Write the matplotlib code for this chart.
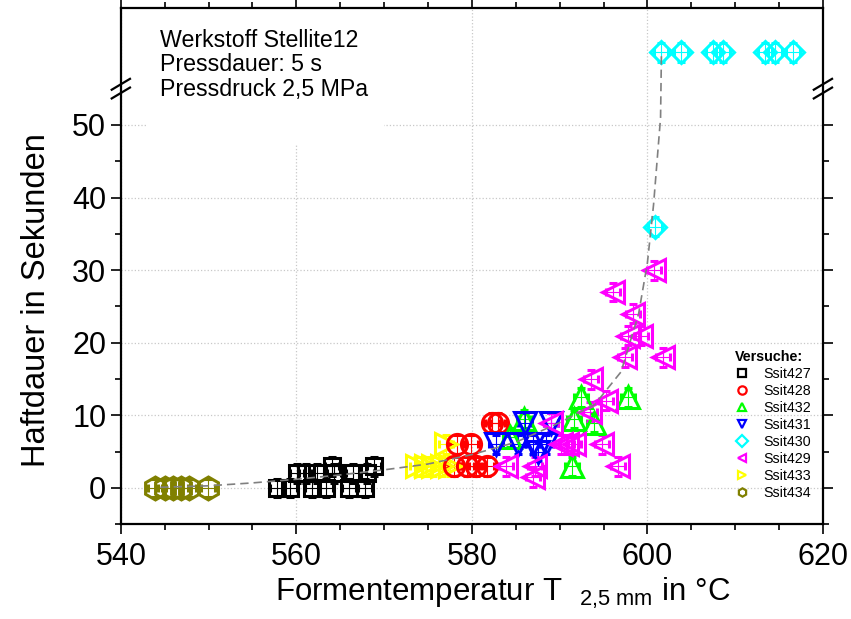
import matplotlib.pyplot as plt
from matplotlib.lines import Line2D
from matplotlib.patches import Rectangle
from matplotlib.ticker import MultipleLocator, FixedLocator
import matplotlib.transforms as mtransforms

plt.rcParams['font.family'] = ['Liberation Sans', 'DejaVu Sans']
plt.rcParams['mathtext.fontset'] = 'custom'
plt.rcParams['mathtext.rm'] = 'Liberation Sans'
plt.rcParams['mathtext.it'] = 'Liberation Sans:italic'

# samples that did not stick are drawn in a row above the axis break
NO_STICK = 60
BREAK_AT = 55

# measurement uncertainty (temperature in °C, time in s)
X_ERR = 0.8
Y_ERR = 1.3

ssit427_x = [557.8, 559.3, 560.1, 561.1, 561.8, 562.4, 563.4, 564.1, 564.3, 566.0, 566.5, 567.8, 568.0, 568.9]
ssit427_y = [0, 0, 2, 2, 0, 2, 0, 3, 2, 0, 2, 0, 2, 3]

ssit428_x = [578.0, 578.3, 579.4, 579.9, 580.5, 581.7, 582.3, 583.0]
ssit428_y = [3, 6, 3, 6, 3, 3, 9, 9]

ssit432_x = [584.3, 585.9, 591.4, 591.6, 592.4, 593.9, 597.8]
ssit432_y = [7, 9.5, 3, 9.5, 12.5, 9, 12.5]

ssit431_x = [582.8, 585.3, 586.1, 587.0, 587.5, 588.5, 589.0]
ssit431_y = [6, 6, 9, 6, 5, 6, 9]

ssit430_x = [600.9, 601.6, 603.8, 607.5, 608.6, 613.4, 614.5, 616.6]
ssit430_y = [36, NO_STICK, NO_STICK, NO_STICK, NO_STICK, NO_STICK, NO_STICK, NO_STICK]

ssit429_x = [583.9, 587.0, 587.2, 589.0, 590.2, 590.8, 591.6, 593.5, 593.6, 594.8,
             595.3, 596.1, 596.6, 597.5, 597.8, 598.4, 599.3, 600.7, 601.8]
ssit429_y = [3, 1.5, 3, 9, 6, 6, 6, 10.5, 15, 6, 12, 27, 3, 18, 21, 24, 21, 30, 18]

ssit433_x = [573.8, 574.8, 575.6, 576.6, 577.0, 577.5]
ssit433_y = [3, 3, 3, 3, 6, 3]

ssit434_x = [543.9, 545.0, 545.9, 546.9, 547.8, 549.9]
ssit434_y = [0, 0, 0, 0, 0, 0]

# hand-drawn trend through the point cloud
trend_x = [544.5, 550, 555, 560, 565, 570, 575, 580, 585, 590, 594, 597, 599, 600.0, 600.7, 601.5, 601.6]
trend_y = [0.1, 0.3, 0.7, 1.2, 1.8, 2.5, 3.3, 4.6, 6.3, 9.0, 11.5, 16, 24, 31, 39, 51, 60]

series = [
    ('Ssit427', ssit427_x, ssit427_y, 's', 'black', 12),
    ('Ssit428', ssit428_x, ssit428_y, 'o', 'red', 14.5),
    ('Ssit432', ssit432_x, ssit432_y, '^', '#00ff00', 16),
    ('Ssit431', ssit431_x, ssit431_y, 'v', 'blue', 16),
    ('Ssit430', ssit430_x, ssit430_y, 'D', 'cyan', 11),
    ('Ssit429', ssit429_x, ssit429_y, '<', 'magenta', 16),
    ('Ssit433', ssit433_x, ssit433_y, '>', 'yellow', 16),
    ('Ssit434', ssit434_x, ssit434_y, 'h', '#808000', 16.5),
]
draw_order = ['Ssit434', 'Ssit427', 'Ssit433', 'Ssit428', 'Ssit432', 'Ssit431', 'Ssit429', 'Ssit430']

fig = plt.figure(figsize=(8.51, 6.19), dpi=100)
ax = fig.add_axes([0.142, 0.153, 0.825, 0.834])

handles = []
lookup = {s[0]: s for s in series}
for name in draw_order:
    label, xs, ys, marker, color, ms = lookup[name]
    ax.errorbar(xs, ys, xerr=X_ERR, yerr=Y_ERR, fmt=marker, ms=ms, mfc='none',
                mec=color, mew=2.2, ecolor=color, elinewidth=0.8, capsize=3,
                capthick=0.8, linestyle='none', zorder=3)
for label, xs, ys, marker, color, ms in series:
    handles.append(Line2D([], [], marker=marker, linestyle='none', mfc='none',
                          mec=color, mew=1.6, ms=6, label=label))

ax.plot(trend_x, trend_y, linestyle=(0, (5, 3)), color='#808080', lw=1.2, zorder=4)

ax.set_xlim(540, 620)
ax.set_ylim(-5, 66.1)
ax.xaxis.set_major_locator(MultipleLocator(20))
ax.xaxis.set_minor_locator(MultipleLocator(5))
ax.yaxis.set_major_locator(FixedLocator([0, 10, 20, 30, 40, 50]))
ax.yaxis.set_minor_locator(FixedLocator([-5, 5, 15, 25, 35, 45]))

ax.tick_params(which='both', direction='out', top=True, right=True, width=1.2, labelsize=22)
ax.tick_params(which='major', length=7)
ax.tick_params(which='minor', length=4)
ax.tick_params(axis='x', which='major', pad=6)
for sp in ax.spines.values():
    sp.set_linewidth(1.6)

ax.set_axisbelow(True)
ax.grid(True, which='major', linestyle=':', color='#c8c8c8', linewidth=0.9)

# y label centred on the part of the axis below the break
ax.set_ylabel('Haftdauer in Sekunden', fontsize=23.5)
ax.yaxis.set_label_coords(-0.098, 0.434)
ax.set_xlabel(r'Formentemperatur T  $_{\mathrm{2{,}5\ mm}}$ in °C', fontsize=22.5)
ax.xaxis.set_label_coords(0.544, -0.099)

# white area behind the test parameters
ax.add_patch(Rectangle((0.036, 0.734), 0.339, 0.266, transform=ax.transAxes,
                       facecolor='white', edgecolor='none', zorder=1))
ax.text(0.0556, 0.96, 'Werkstoff Stellite12\nPressdauer: 5 s\nPressdruck 2,5 MPa',
        transform=ax.transAxes, fontsize=16.7, va='top', ha='left',
        linespacing=1.08, zorder=5)

# axis break marks on both vertical spines
trans = mtransforms.blended_transform_factory(ax.transAxes, ax.transData)
for xa in (0.0, 1.0):
    for dy in (-0.6, 0.6):
        ax.plot([xa - 0.013, xa + 0.013], [BREAK_AT + dy - 0.75, BREAK_AT + dy + 0.75],
                color='black', lw=1.6, transform=trans, clip_on=False, zorder=6)

leg = ax.legend(handles=handles, title='Versuche:', loc='lower left',
                bbox_to_anchor=(0.875, 0.047), frameon=False, fontsize=10.3,
                title_fontproperties={'weight': 'bold', 'size': 10.3},
                handlelength=1.0, handletextpad=1.0, labelspacing=0.21,
                borderpad=0, borderaxespad=0, alignment='left')

fig.savefig('out.png', dpi=100)
